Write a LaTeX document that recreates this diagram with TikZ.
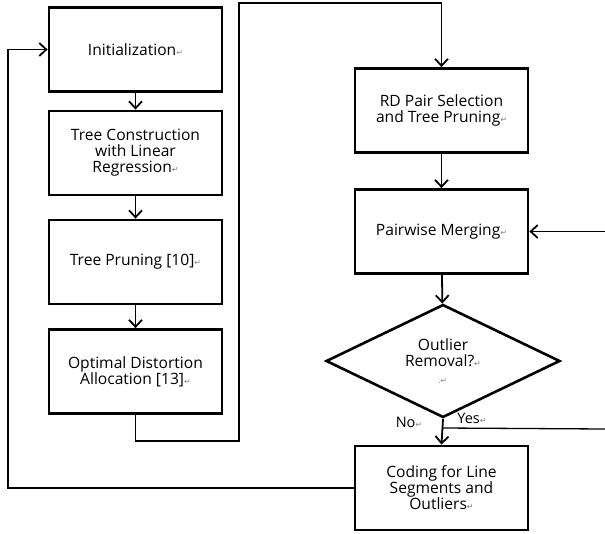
\documentclass[tikz,border=0pt]{standalone}
\usepackage{fontspec}
\setmainfont{Open Sans}
\newfontfamily\markfont{DejaVu Sans}
\usetikzlibrary{positioning,arrows.meta,shapes.geometric}
\tikzset{>={Straight Barb[length=7pt,width=13pt]}}
\tikzset{
  procbox/.style={draw,line width=2.8pt,minimum width=173pt,minimum height=84pt,
    inner sep=0pt,align=center,font=\fontsize{15.6}{16}\selectfont},
  decide/.style={draw,diamond,line width=2.6pt,aspect=2.07,minimum width=234pt,
    minimum height=113pt,inner sep=0pt,align=center,font=\fontsize{15.6}{16}\selectfont},
  flow/.style={->,line width=1.8pt},
  thinline/.style={line width=1.3pt},
  answer/.style={font=\fontsize{14.5}{14.5}\selectfont,inner sep=0pt}
}
\newcommand{\retmark}{{\markfont\color{gray}\fontsize{8}{8}\selectfont ↵}}

\begin{document}
\begin{tikzpicture}[x=1pt,y=-1pt]
\useasboundingbox (0,0) rectangle (605,533);
% left column
\node[procbox] (init) at (135.5,49.5) {Initialization\retmark};
\node[procbox] (build) at (135.5,153) {Tree Construction\\with Linear\\Regression\retmark};
\node[procbox] (prune) at (135.5,262) {Tree Pruning [10]\retmark};
\node[procbox] (alloc) at (135.5,371.5) {Optimal Distortion\\Allocation [13]\retmark};
% right column
\node[procbox] (rdsel) at (441.5,110.5) {RD Pair Selection\\and Tree Pruning\retmark};
\node[procbox] (merge) at (441.5,231.5) {Pairwise Merging\retmark};
\node[decide] (outl) at (443,361) {Outlier\\Removal?\retmark\\[1pt]{\fontsize{6}{6}\selectfont .\retmark}};
\node[procbox] (code) at (441.5,488) {Coding for Line\\Segments and\\Outliers\retmark};
\node[answer] (no) at (409,422) {No\retmark};
\node[answer] (yes) at (472,418) {Yes\retmark};
% junctions
\coordinate (j1) at (239,441);
\coordinate (j2) at (239,3);
\coordinate (mIn) at (605,231.5);
\coordinate (ySplit) at (443,428);
\coordinate (yOut) at (605,429);
\coordinate (back) at (8,488);
\draw[flow] (init) -- (build);
\draw[flow] (build) -- (prune);
\draw[flow] (prune) -- (alloc);
\draw[flow] (alloc.south) |- (j1) -- (j2) -| (rdsel.north);
\draw[flow] (rdsel) -- (merge);
\draw[flow] (mIn) -- (merge.east);
\draw[flow] (merge) -- (outl);
\draw[flow] (outl.south) -- (code.north);
\draw[thinline] (ySplit) -- (yOut);
\draw[flow] (code.west) -- (back) |- (init.west);
\end{tikzpicture}
\end{document}
